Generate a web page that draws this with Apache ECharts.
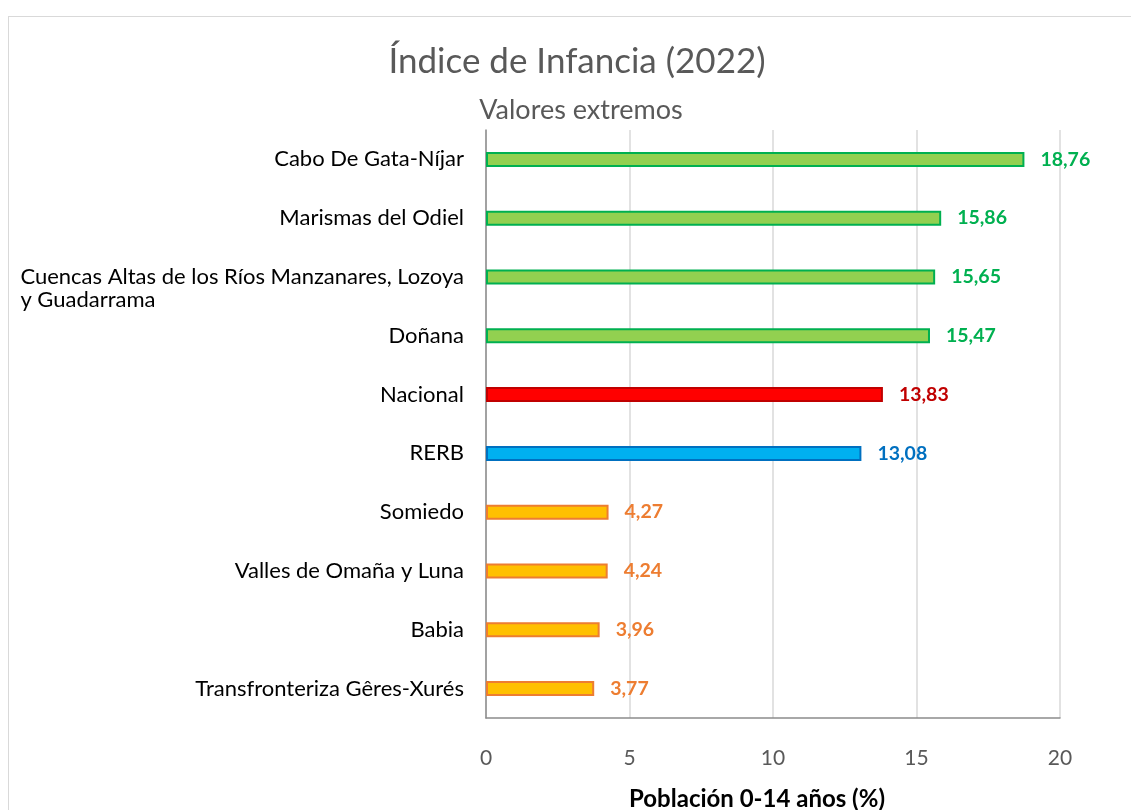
<!DOCTYPE html>
<html><head><meta charset="utf-8">
<script src="https://cdn.jsdelivr.net/npm/echarts@6/dist/echarts.min.js"></script>
<style>
html,body{margin:0;padding:0;background:#fff;}
#frame{position:absolute;left:8px;top:16px;width:1140px;height:820px;border:1px solid #d9d9d9;box-sizing:border-box;}
#chart{position:absolute;left:0;top:0;width:1131px;height:810px;}
</style>
</head><body>
<div id="frame"></div>
<div id="chart"></div>
<script>
const categories = ["Cabo De Gata-Níjar","Marismas del Odiel","Cuencas Altas de los Ríos Manzanares, Lozoya\ny Guadarrama","Doñana","Nacional","RERB","Somiedo","Valles de Omaña y Luna","Babia","Transfronteriza Gêres-Xurés"];
const values = [18.76,15.86,15.65,15.47,13.83,13.08,4.27,4.24,3.96,3.77];
const groups = ["alto","alto","alto","alto","nacional","rerb","bajo","bajo","bajo","bajo"];
const xTicks = [0,5,10,15,20];
const titleText = "Índice de Infancia (2022)";
const subtitleText = "Valores extremos";
const xAxisName = "Población 0-14 años (%)";

const palette = {
  alto:{fill:"#92d050",border:"#00b050",label:"#00b050"},
  nacional:{fill:"#ff0000",border:"#c00000",label:"#c00000"},
  rerb:{fill:"#00b0f0",border:"#0070c0",label:"#0070c0"},
  bajo:{fill:"#ffc000",border:"#ed7d31",label:"#ed7d31"}
};
const FONT = "Lato";
const chart = echarts.init(document.getElementById('chart'), null, {renderer:'canvas'});
chart.setOption({
  backgroundColor:'transparent',
  animation:false,
  grid:{left:486,right:71,top:130,bottom:92,containLabel:false},
  xAxis:{type:'value',min:xTicks[0],max:xTicks[xTicks.length-1],interval:5,
    axisLine:{show:true,lineStyle:{color:'#8c8c8c',width:1.5}},
    axisTick:{show:false},
    splitLine:{show:true,lineStyle:{color:'#d9d9d9',width:1.5}},
    axisLabel:{margin:30,fontFamily:FONT,fontSize:21,color:'#595959'}
  },
  yAxis:{type:'category',data:categories,inverse:true,
    axisLine:{show:true,lineStyle:{color:'#8c8c8c',width:1.5}},
    axisTick:{show:false},
    axisLabel:{margin:22,fontFamily:FONT,fontSize:22,color:'#000',lineHeight:23,
      formatter:function(v){ if(v.indexOf('\n')>=0){return '{l| }\n'+v.split('\n').map(s=>'{l|'+s+'}').join('\n');} return v; },
      rich:{l:{fontFamily:FONT,fontSize:22,color:'#000',lineHeight:23,align:'left'}}
    }
  },
  graphic:[
    {type:'text',x:577,y:62,style:{text:titleText,fontFamily:FONT,fontSize:35,fill:'#595959',align:'center',verticalAlign:'middle'}},
    {type:'text',x:581,y:110,style:{text:subtitleText,fontFamily:FONT,fontSize:27,fill:'#595959',align:'center',verticalAlign:'middle'}},
    {type:'text',x:757,y:799,style:{text:xAxisName,fontFamily:FONT,fontSize:24,fontWeight:'bold',fill:'#000',align:'center',verticalAlign:'middle'}}
  ],
  series:[{type:'bar',barWidth:15,
    data:values.map((v,i)=>({value:v,itemStyle:{color:palette[groups[i]].fill,borderColor:palette[groups[i]].border,borderWidth:2},
      label:{color:palette[groups[i]].label}})),
    label:{show:true,position:'right',distance:16,fontFamily:FONT,fontSize:19.5,fontWeight:'bold',
      formatter:p=>p.value.toFixed(2).replace('.',',')}
  }]
});
</script>
</body></html>
